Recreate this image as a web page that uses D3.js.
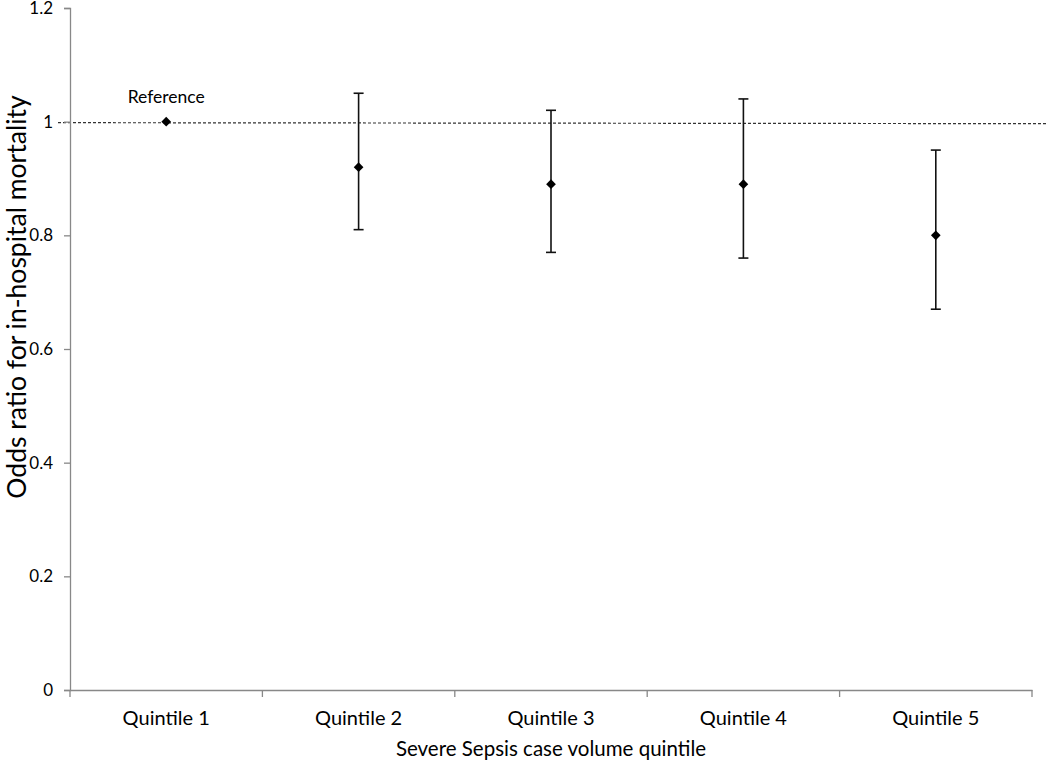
<!DOCTYPE html>
<html>
<head>
<meta charset="utf-8">
<script src="https://cdn.jsdelivr.net/npm/d3@7"></script>
<style>
  body { margin: 0; background: #fff; }
  text { font-family: Lato, "Open Sans", sans-serif; fill: #000; }
</style>
</head>
<body>
<div id="chart"></div>
<script>
// values
const quintiles = ['Quintile 1', 'Quintile 2', 'Quintile 3', 'Quintile 4', 'Quintile 5'];
const oddsRatio = [1.0, 0.92, 0.89, 0.89, 0.80];
const ciLow = [null, 0.81, 0.77, 0.76, 0.67];
const ciHigh = [null, 1.05, 1.02, 1.04, 0.95];
const yTicks = [0, 0.2, 0.4, 0.6, 0.8, 1, 1.2];

const width = 1050, height = 762;
const margin = { top: 8, right: 18, bottom: 72, left: 70 };

const svg = d3.select('#chart').append('svg')
    .attr('width', width)
    .attr('height', height);

const x = d3.scaleBand()
    .domain(quintiles)
    .range([margin.left, width - margin.right]);

const y = d3.scaleLinear()
    .domain([0, 1.2])
    .range([height - margin.bottom, margin.top]);

// reference line at OR = 1
svg.append('line')
    .attr('x1', margin.left - 12)
    .attr('x2', width - 2)
    .attr('y1', y(1) + 1)
    .attr('y2', y(1) + 2)
    .attr('stroke', '#333')
    .attr('stroke-width', 1.2)
    .attr('stroke-dasharray', '3,2');

// y axis
const yAxis = svg.append('g')
    .attr('transform', `translate(${margin.left},0)`)
    .call(d3.axisLeft(y).tickValues(yTicks).tickSize(6).tickPadding(11).tickFormat(d => d3.format('')(d)));
yAxis.select('.domain').attr('stroke', '#888').attr('stroke-width', 1.3);
yAxis.selectAll('.tick line').attr('stroke', '#888').attr('stroke-width', 1.3);
yAxis.selectAll('.tick text').attr('font-size', 17).attr('font-family', 'Lato, sans-serif');

// x axis
const xAxis = svg.append('g')
    .attr('transform', `translate(0,${y(0)})`)
    .call(d3.axisBottom(x).tickSize(0).tickPadding(21));
xAxis.select('.domain').attr('stroke', '#888').attr('stroke-width', 1.3);
xAxis.selectAll('.tick text').attr('font-size', 20).attr('font-family', 'Lato, sans-serif');

// category boundary ticks
const bounds = quintiles.map(q => x(q)).concat([x(quintiles[quintiles.length - 1]) + x.bandwidth()]);
svg.append('g').selectAll('line')
    .data(bounds)
    .enter().append('line')
    .attr('x1', d => d).attr('x2', d => d)
    .attr('y1', y(0)).attr('y2', y(0) + 7)
    .attr('stroke', '#888')
    .attr('stroke-width', 1.3);

const cx = i => x(quintiles[i]) + x.bandwidth() / 2;

// error bars
const bars = svg.append('g');
oddsRatio.forEach((v, i) => {
    if (ciLow[i] === null) return;
    bars.append('line')
        .attr('x1', cx(i)).attr('x2', cx(i))
        .attr('y1', y(ciLow[i])).attr('y2', y(ciHigh[i]))
        .attr('stroke', '#111').attr('stroke-width', 1.6);
    [ciLow[i], ciHigh[i]].forEach(c => {
        bars.append('line')
            .attr('x1', cx(i) - 5).attr('x2', cx(i) + 5)
            .attr('y1', y(c)).attr('y2', y(c))
            .attr('stroke', '#111').attr('stroke-width', 1.6);
    });
});

// point estimates
svg.append('g').selectAll('path')
    .data(oddsRatio)
    .enter().append('path')
    .attr('d', d3.symbol().type(d3.symbolDiamond2).size(60))
    .attr('transform', (d, i) => `translate(${cx(i)},${y(d)})`)
    .attr('fill', '#000');

svg.append('text')
    .attr('x', cx(0))
    .attr('y', 103)
    .attr('text-anchor', 'middle')
    .attr('font-size', 17.5)
    .text('Reference');

// axis titles
svg.append('text')
    .attr('x', cx(2))
    .attr('y', 756)
    .attr('text-anchor', 'middle')
    .attr('font-size', 20.5)
    .text('Severe Sepsis case volume quintile');

svg.append('text')
    .attr('transform', `translate(26,297) rotate(-90)`)
    .attr('text-anchor', 'middle')
    .attr('font-size', 26.5)
    .text('Odds ratio for in-hospital mortality');
</script>
</body>
</html>
